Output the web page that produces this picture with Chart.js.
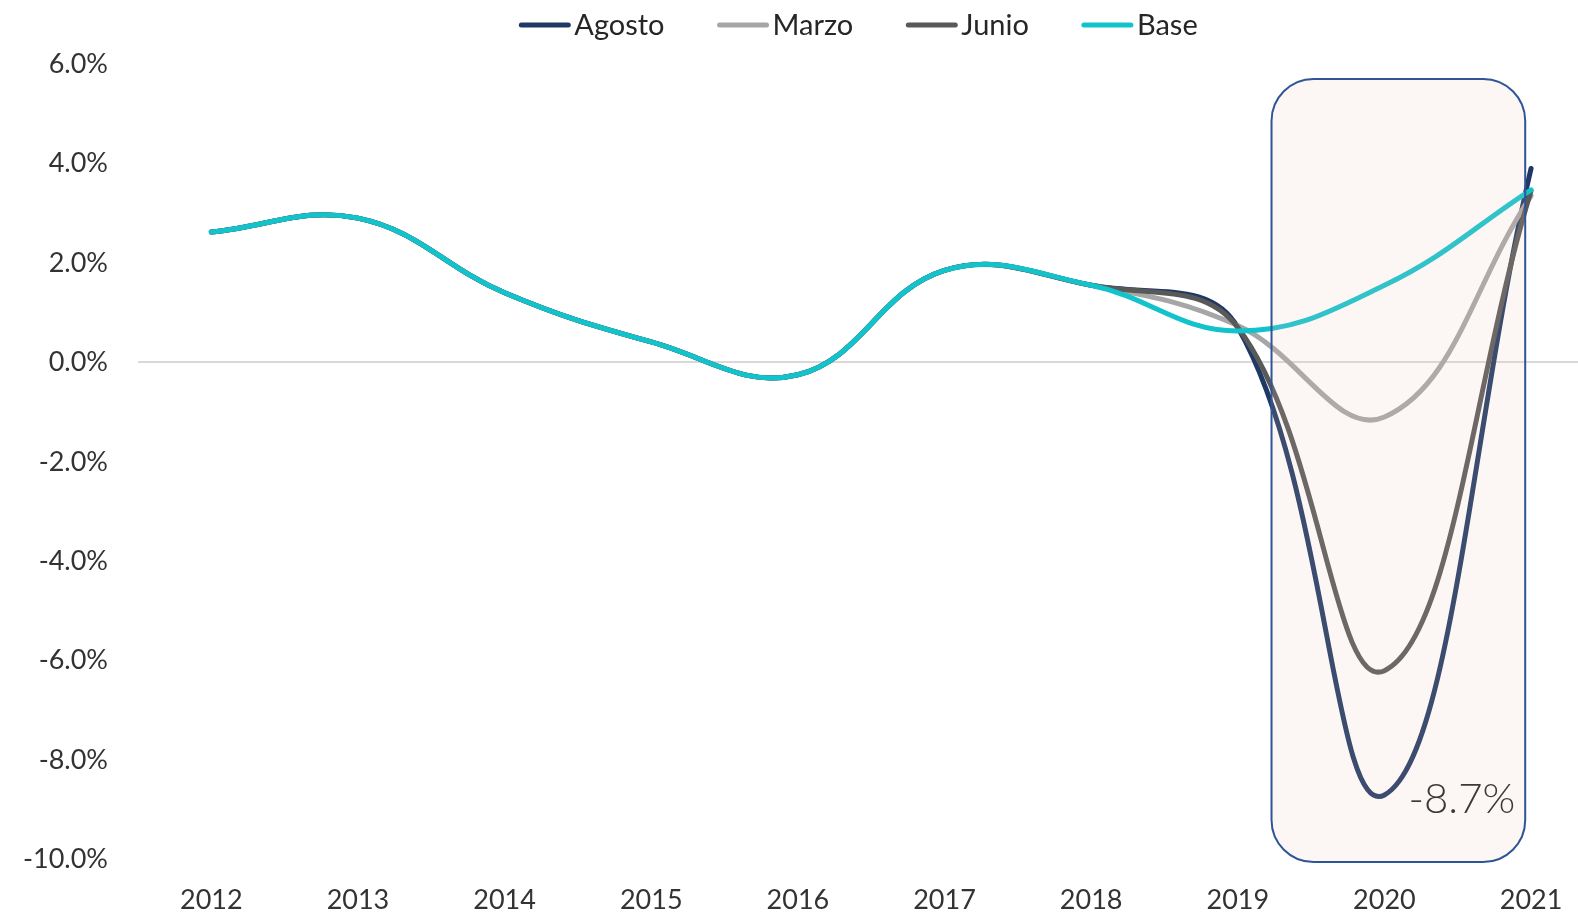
<!DOCTYPE html>
<html lang="es">
<head>
<meta charset="utf-8">
<title>Escenarios de crecimiento</title>
<script src="https://cdn.jsdelivr.net/npm/chart.js@4.4.1/dist/chart.umd.min.js"></script>
<style>
  html, body { margin: 0; padding: 0; background: #fff; }
  #contenedor { width: 1578px; height: 919px; }
</style>
</head>
<body>
<div id="contenedor"><canvas id="Escenarios"></canvas></div>
<script>
// Datos (variación anual, %)
const anios  = [2012, 2013, 2014, 2015, 2016, 2017, 2018, 2019, 2020, 2021];
const agosto = [2.62, 2.90, 1.40, 0.41, -0.25, 1.85, 1.55, 0.70, -8.7, 3.90];
const marzo  = [2.62, 2.90, 1.40, 0.41, -0.25, 1.85, 1.55, 0.74, -1.1, 3.35];
const junio  = [2.62, 2.90, 1.40, 0.41, -0.25, 1.85, 1.55, 0.70, -6.2, 3.45];
const base   = [2.62, 2.90, 1.40, 0.41, -0.25, 1.85, 1.55, 0.63, 1.55, 3.47];
const ticksY = [-10, -8, -6, -4, -2, 0, 2, 4, 6];

// recuadro de 2020
const recuadro = { x0: 2019.23, x1: 2020.96, y0: 5.7, y1: -10.05 };

const fuente = 'Lato, "Open Sans", sans-serif';

const puntos = (serie) => serie.map((v, i) => ({ x: anios[i], y: v }));

const recuadroPlugin = {
    id: 'recuadro',
    afterDatasetsDraw(chart) {
        const { ctx, scales: { x, y } } = chart;
        const l = x.getPixelForValue(recuadro.x0);
        const r = x.getPixelForValue(recuadro.x1);
        const t = y.getPixelForValue(recuadro.y0);
        const b = y.getPixelForValue(recuadro.y1);
        ctx.save();
        ctx.beginPath();
        ctx.roundRect(l, t, r - l, b - t, 42);
        ctx.fillStyle = 'rgba(235, 200, 185, 0.14)';
        ctx.fill();
        ctx.lineWidth = 2;
        ctx.strokeStyle = '#2F5597';
        ctx.stroke();

        // etiqueta del mínimo de Agosto
        const i = anios.indexOf(2020);
        const px = x.getPixelForValue(2020);
        const py = y.getPixelForValue(agosto[i]);
        ctx.fillStyle = '#3A3A3A';
        ctx.font = '300 42px ' + fuente;
        ctx.textBaseline = 'alphabetic';
        ctx.fillText(agosto[i].toFixed(1) + '%', px + 24, py + 18);
        ctx.restore();
    }
};

// leyenda arriba, centrada sobre el área de trazado
const leyendaPlugin = {
    id: 'leyenda',
    afterDraw(chart) {
        const { ctx, chartArea } = chart;
        const sets = chart.data.datasets;
        ctx.save();
        ctx.font = '29px ' + fuente;
        const anchos = sets.map(d => 56 + ctx.measureText(d.label).width);
        const total = anchos.reduce((a, b) => a + b, 0) + 52 * (sets.length - 1);
        let x = (chartArea.left + chartArea.right) / 2 - total / 2;
        const y = 25;
        sets.forEach((d, i) => {
            ctx.beginPath();
            ctx.moveTo(x + 3, y);
            ctx.lineTo(x + 50, y);
            ctx.lineWidth = 5;
            ctx.lineCap = 'round';
            ctx.strokeStyle = d.borderColor;
            ctx.stroke();
            ctx.fillStyle = '#262626';
            ctx.textBaseline = 'middle';
            ctx.fillText(d.label, x + 56, y + 1);
            x += anchos[i] + 52;
        });
        ctx.restore();
    }
};

const ctx = document.getElementById('Escenarios').getContext('2d');
const grafica = new Chart(ctx, {
    type: 'line',
    data: {
        datasets: [{
            label: 'Agosto',
            data: puntos(agosto),
            borderColor: '#1F3864',
            backgroundColor: '#1F3864',
            order: 4
        }, {
            label: 'Marzo',
            data: puntos(marzo),
            borderColor: '#A6A6A6',
            backgroundColor: '#A6A6A6',
            order: 3
        }, {
            label: 'Junio',
            data: puntos(junio),
            borderColor: '#595959',
            backgroundColor: '#595959',
            order: 2
        }, {
            label: 'Base',
            data: puntos(base),
            borderColor: '#12C3CC',
            backgroundColor: '#12C3CC',
            order: 1
        }]
    },
    options: {
        responsive: true,
        maintainAspectRatio: false,
        animation: false,
        layout: { padding: { top: 64, right: 0, bottom: -21, left: 0 } },
        elements: {
            line: { borderWidth: 5, tension: 0.4, borderCapStyle: 'round', borderJoinStyle: 'round' },
            point: { radius: 0, hoverRadius: 0 }
        },
        scales: {
            x: {
                type: 'linear',
                min: 2011.5,
                max: 2021.32,
                afterBuildTicks: (s) => { s.ticks = anios.map(v => ({ value: v })); },
                afterFit: (s) => { s.paddingLeft = 0; s.paddingRight = 0; },
                grid: { display: false, drawTicks: false },
                border: { display: false },
                ticks: {
                    callback: (v) => String(v),
                    autoSkip: false,
                    maxRotation: 0,
                    padding: 24,
                    color: '#333333',
                    font: { family: fuente, size: 27 }
                }
            },
            y: {
                min: -10,
                max: 6,
                afterBuildTicks: (s) => { s.ticks = ticksY.map(v => ({ value: v })); },
                afterFit: (s) => { s.width = 138; s.paddingTop = 0; s.paddingBottom = 0; },
                grid: {
                    drawTicks: false,
                    lineWidth: 2,
                    color: (c) => (c.tick && c.tick.value === 0 ? '#D9D9D9' : 'rgba(0,0,0,0)')
                },
                border: { display: false },
                ticks: {
                    callback: (v) => v.toFixed(1) + '%',
                    padding: 30,
                    color: '#333333',
                    font: { family: fuente, size: 27 }
                }
            }
        },
        plugins: {
            tooltip: { enabled: false },
            legend: { display: false }
        }
    },
    plugins: [recuadroPlugin, leyendaPlugin]
});
</script>
</body>
</html>
